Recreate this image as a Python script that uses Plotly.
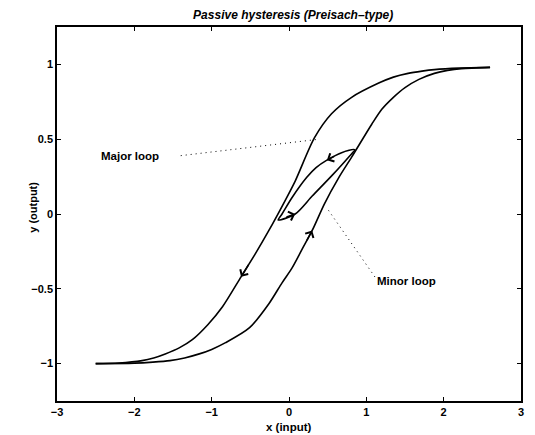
import plotly.graph_objects as go

# Major loop, descending branch (upper-left), traversed from right to left
desc_x = [2.6, 2.2, 1.88, 1.72, 1.54, 1.35, 1.16, 0.81, 0.55, 0.33, 0.08, -0.05, -0.26, -0.44, -0.62, -0.86, -1.05, -1.25, -1.42, -1.6, -1.75, -1.9, -2.2, -2.5]
desc_y = [0.98, 0.975, 0.965, 0.955, 0.94, 0.915, 0.875, 0.78, 0.67, 0.51, 0.22, 0.09, -0.11, -0.27, -0.42, -0.62, -0.74, -0.84, -0.895, -0.935, -0.962, -0.98, -0.996, -1.0]

# Major loop, ascending branch (lower-right), traversed from left to right
asc_x = [-2.5, -2.0, -1.76, -1.54, -1.35, -1.16, -1.0, -0.82, -0.51, -0.26, -0.09, 0.04, 0.17, 0.30, 0.46, 0.64, 0.81, 1.07, 1.2, 1.35, 1.5, 1.68, 1.88, 2.05, 2.23, 2.6]
asc_y = [-1.0, -0.997, -0.99, -0.98, -0.962, -0.935, -0.905, -0.86, -0.76, -0.6, -0.46, -0.36, -0.235, -0.11, 0.07, 0.24, 0.38, 0.6, 0.7, 0.78, 0.845, 0.9, 0.94, 0.96, 0.972, 0.98]

# Minor loop: lower (ascending) path then upper (descending) path
minor_x = [-0.14, 0.08, 0.3, 0.56, 0.77, 0.85, 0.68, 0.49, 0.35, 0.23, 0.04, -0.09, -0.14]
minor_y = [-0.04, 0.0, 0.12, 0.26, 0.38, 0.43, 0.41, 0.36, 0.31, 0.245, 0.11, 0.0, -0.04]

# direction arrows: (curve, index of arrow tip) -- tail is previous point
arrow_marks = [("desc", 14), ("asc", 13), ("minor", 1), ("minor", 7)]

# label texts and leader lines
label_text = ["Major loop", "Minor loop"]
label_x = [-2.06, 1.52]
label_y = [0.39, -0.45]
leader_x = [[-1.40, 0.39], [1.11, 0.49]]
leader_y = [[0.39, 0.50], [-0.42, 0.04]]

x_ticks = [-3, -2, -1, 0, 1, 2, 3]
y_ticks = [-1, -0.5, 0, 0.5, 1]
y_tick_text = ["\u22121", "\u22120.5", "0", "0.5", "1"]

curves = {"desc": (desc_x, desc_y), "asc": (asc_x, asc_y), "minor": (minor_x, minor_y)}

FONT = "Liberation Sans, Arial, Helvetica, sans-serif"
fig = go.Figure()
for name, (cx, cy) in curves.items():
    fig.add_trace(go.Scatter(x=cx, y=cy, mode="lines", line=dict(color="black", width=1.6, shape="spline", smoothing=0.8),
                             hoverinfo="skip", showlegend=False))

for lx, ly in zip(leader_x, leader_y):
    fig.add_trace(go.Scatter(x=lx, y=ly, mode="lines", line=dict(color="black", width=1, dash="1px,4px"),
                             hoverinfo="skip", showlegend=False))

annotations = []
for name, i in arrow_marks:
    cx, cy = curves[name]
    annotations.append(dict(x=cx[i], y=cy[i], ax=cx[i - 1] + (cx[i] - cx[i - 1]) * 0.4,
                            ay=cy[i - 1] + (cy[i] - cy[i - 1]) * 0.4,
                            xref="x", yref="y", axref="x", ayref="y", text="", showarrow=True,
                            arrowhead=4, arrowsize=1.2, arrowwidth=1.5, arrowcolor="black", standoff=0))
for t, x, y in zip(label_text, label_x, label_y):
    annotations.append(dict(x=x, y=y, xref="x", yref="y", text=t, showarrow=False,
                            font=dict(family=FONT, size=11.5, color="black", weight="bold")))
# axis titles
annotations.append(dict(x=-0.052, y=0.519, xref="paper", yref="paper", text="y (output)", textangle=-90,
                        showarrow=False, xanchor="center", yanchor="middle",
                        font=dict(family=FONT, size=11, color="black", weight="bold")))
annotations.append(dict(x=0.5, y=-0.069, xref="paper", yref="paper", text="x (input)",
                        showarrow=False, xanchor="center", yanchor="middle",
                        font=dict(family=FONT, size=11.5, color="black", weight="bold")))

fig.update_layout(
    width=535, height=435,
    margin=dict(l=57, r=14, t=27, b=34),
    paper_bgcolor="white", plot_bgcolor="white",
    title=dict(text="<i>Passive hysteresis (Preisach\u2013type)</i>", x=0.548, xanchor="center", y=0.965, yanchor="middle",
               font=dict(family=FONT, size=12, color="black", weight="bold")),
    annotations=annotations,
    showlegend=False,
)
fig.update_xaxes(range=[-3, 3], tickvals=x_ticks, ticks="inside", ticklen=4, tickcolor="black", tickwidth=1,
                 showline=True, linecolor="black", linewidth=1.5, mirror="ticks", showgrid=False, zeroline=False,
                 automargin=False, tickfont=dict(family=FONT, size=11, color="black", weight="bold"))
fig.update_yaxes(range=[-1.25, 1.25], tickvals=y_ticks, ticktext=y_tick_text, ticks="inside", ticklen=4, tickcolor="black", tickwidth=1,
                 showline=True, linecolor="black", linewidth=1.5, mirror="ticks", showgrid=False, zeroline=False,
                 automargin=False, tickfont=dict(family=FONT, size=11, color="black", weight="bold"))

fig.write_html("out.html", post_script="document.body.style.margin='0';", config={"displayModeBar": False})
